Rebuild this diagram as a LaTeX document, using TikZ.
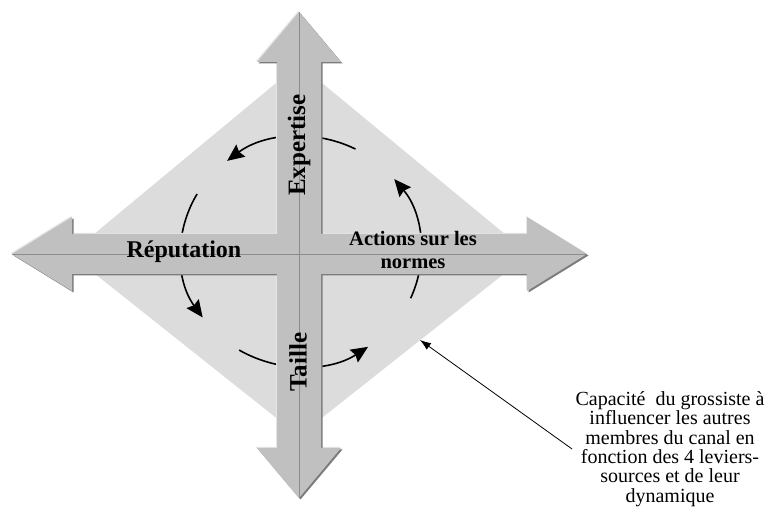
\documentclass[tikz,border=0pt]{standalone}
\usepackage{fontspec}
\setmainfont{Liberation Serif}
\usepackage[HTML]{xcolor}
\usepackage{tikz}
\usetikzlibrary{arrows.meta}

\definecolor{losange}{HTML}{DCDCDC}
\definecolor{fleche}{HTML}{C0C0C0}
\definecolor{ombre}{HTML}{7C7C7C}
\definecolor{relief}{HTML}{E6E6E6}
\definecolor{axe}{HTML}{8C8C8C}

\begin{document}
\begin{tikzpicture}[x=1pt, y=1pt,
  cycle/.style={line width=1.6pt, -{Stealth[length=17pt,width=15pt,inset=2pt]}},
  levier/.style={font=\bfseries\fontsize{24}{24}\selectfont, inner sep=1pt}]
\useasboundingbox (0,0) rectangle (769,524);
\fill[white] (0,0) rectangle (769,524);

% losange (capacite d'influence)
\coordinate (L1) at (299,460);
\coordinate (L2) at (529,270);
\coordinate (L3) at (299,88);
\coordinate (L4) at (70,270);
\fill[losange] (L1)--(L2)--(L3)--(L4)--cycle;

% dynamique : arcs autour du centre
\coordinate (C) at (301,272.5);
\draw[cycle] ([shift={(63:120pt and 115pt)}]C) arc[start angle=63, end angle=128, x radius=120pt, y radius=115pt];
\draw[cycle] ([shift={(150:120pt and 115pt)}]C) arc[start angle=150, end angle=215, x radius=120pt, y radius=115pt];
\draw[cycle] ([shift={(239:120pt and 115pt)}]C) arc[start angle=239, end angle=304, x radius=120pt, y radius=115pt];
\draw[cycle] ([shift={(336:120pt and 115pt)}]C) arc[start angle=336, end angle=399, x radius=120pt, y radius=115pt];

% croix des 4 leviers (relief, ombre, fleche)
\foreach \dx/\dy/\col in {-1/1/relief, 1.5/-1.5/ombre, 0/0/fleche}
  \fill[\col, shift={(\dx,\dy)}] (299,512) -- (341,462) -- (321,462) -- (321,290)
    -- (527,290) -- (527,307) -- (587,270) -- (527,233) -- (527,250) -- (321,250)
    -- (321,76) -- (341,76) -- (299,26) -- (257,76) -- (277,76) -- (277,250)
    -- (72,250) -- (72,233) -- (12,270) -- (72,307) -- (72,290) -- (277,290)
    -- (277,462) -- (257,462) -- cycle;

\coordinate (Nord) at (299,512);
\coordinate (Sud) at (299,26);
\coordinate (Ouest) at (12,270);
\coordinate (Est) at (587,270);
\draw[axe, line width=0.9pt] (Nord) -- (Sud);
\draw[axe, line width=0.9pt] (Ouest) -- (Est);

\node[levier, rotate=90, font=\bfseries\fontsize{25}{25}\selectfont] (expertise) at (299,379) {Expertise};
\node[levier, rotate=90, font=\bfseries\fontsize{25}{25}\selectfont] (taille) at (298,162) {Taille};
\node[levier] (reputation) at (184,272) {Réputation};
\node[levier, font=\bfseries\fontsize{20.5}{23}\selectfont, align=center] (normes) at (413,274) {Actions sur les\\normes};

% legende
\node[font=\fontsize{20}{19.4}\selectfont, align=center] (capacite) at (670,75)
  {Capacité\ \ du grossiste à\\influencer les autres\\membres du canal en\\fonction des 4 leviers-\\sources et de leur\\dynamique};
\coordinate (bord) at (420,184);
\draw[line width=0.8pt, -{Latex[length=11pt,width=8pt]}] (capacite.west) -- (bord);
\end{tikzpicture}
\end{document}
